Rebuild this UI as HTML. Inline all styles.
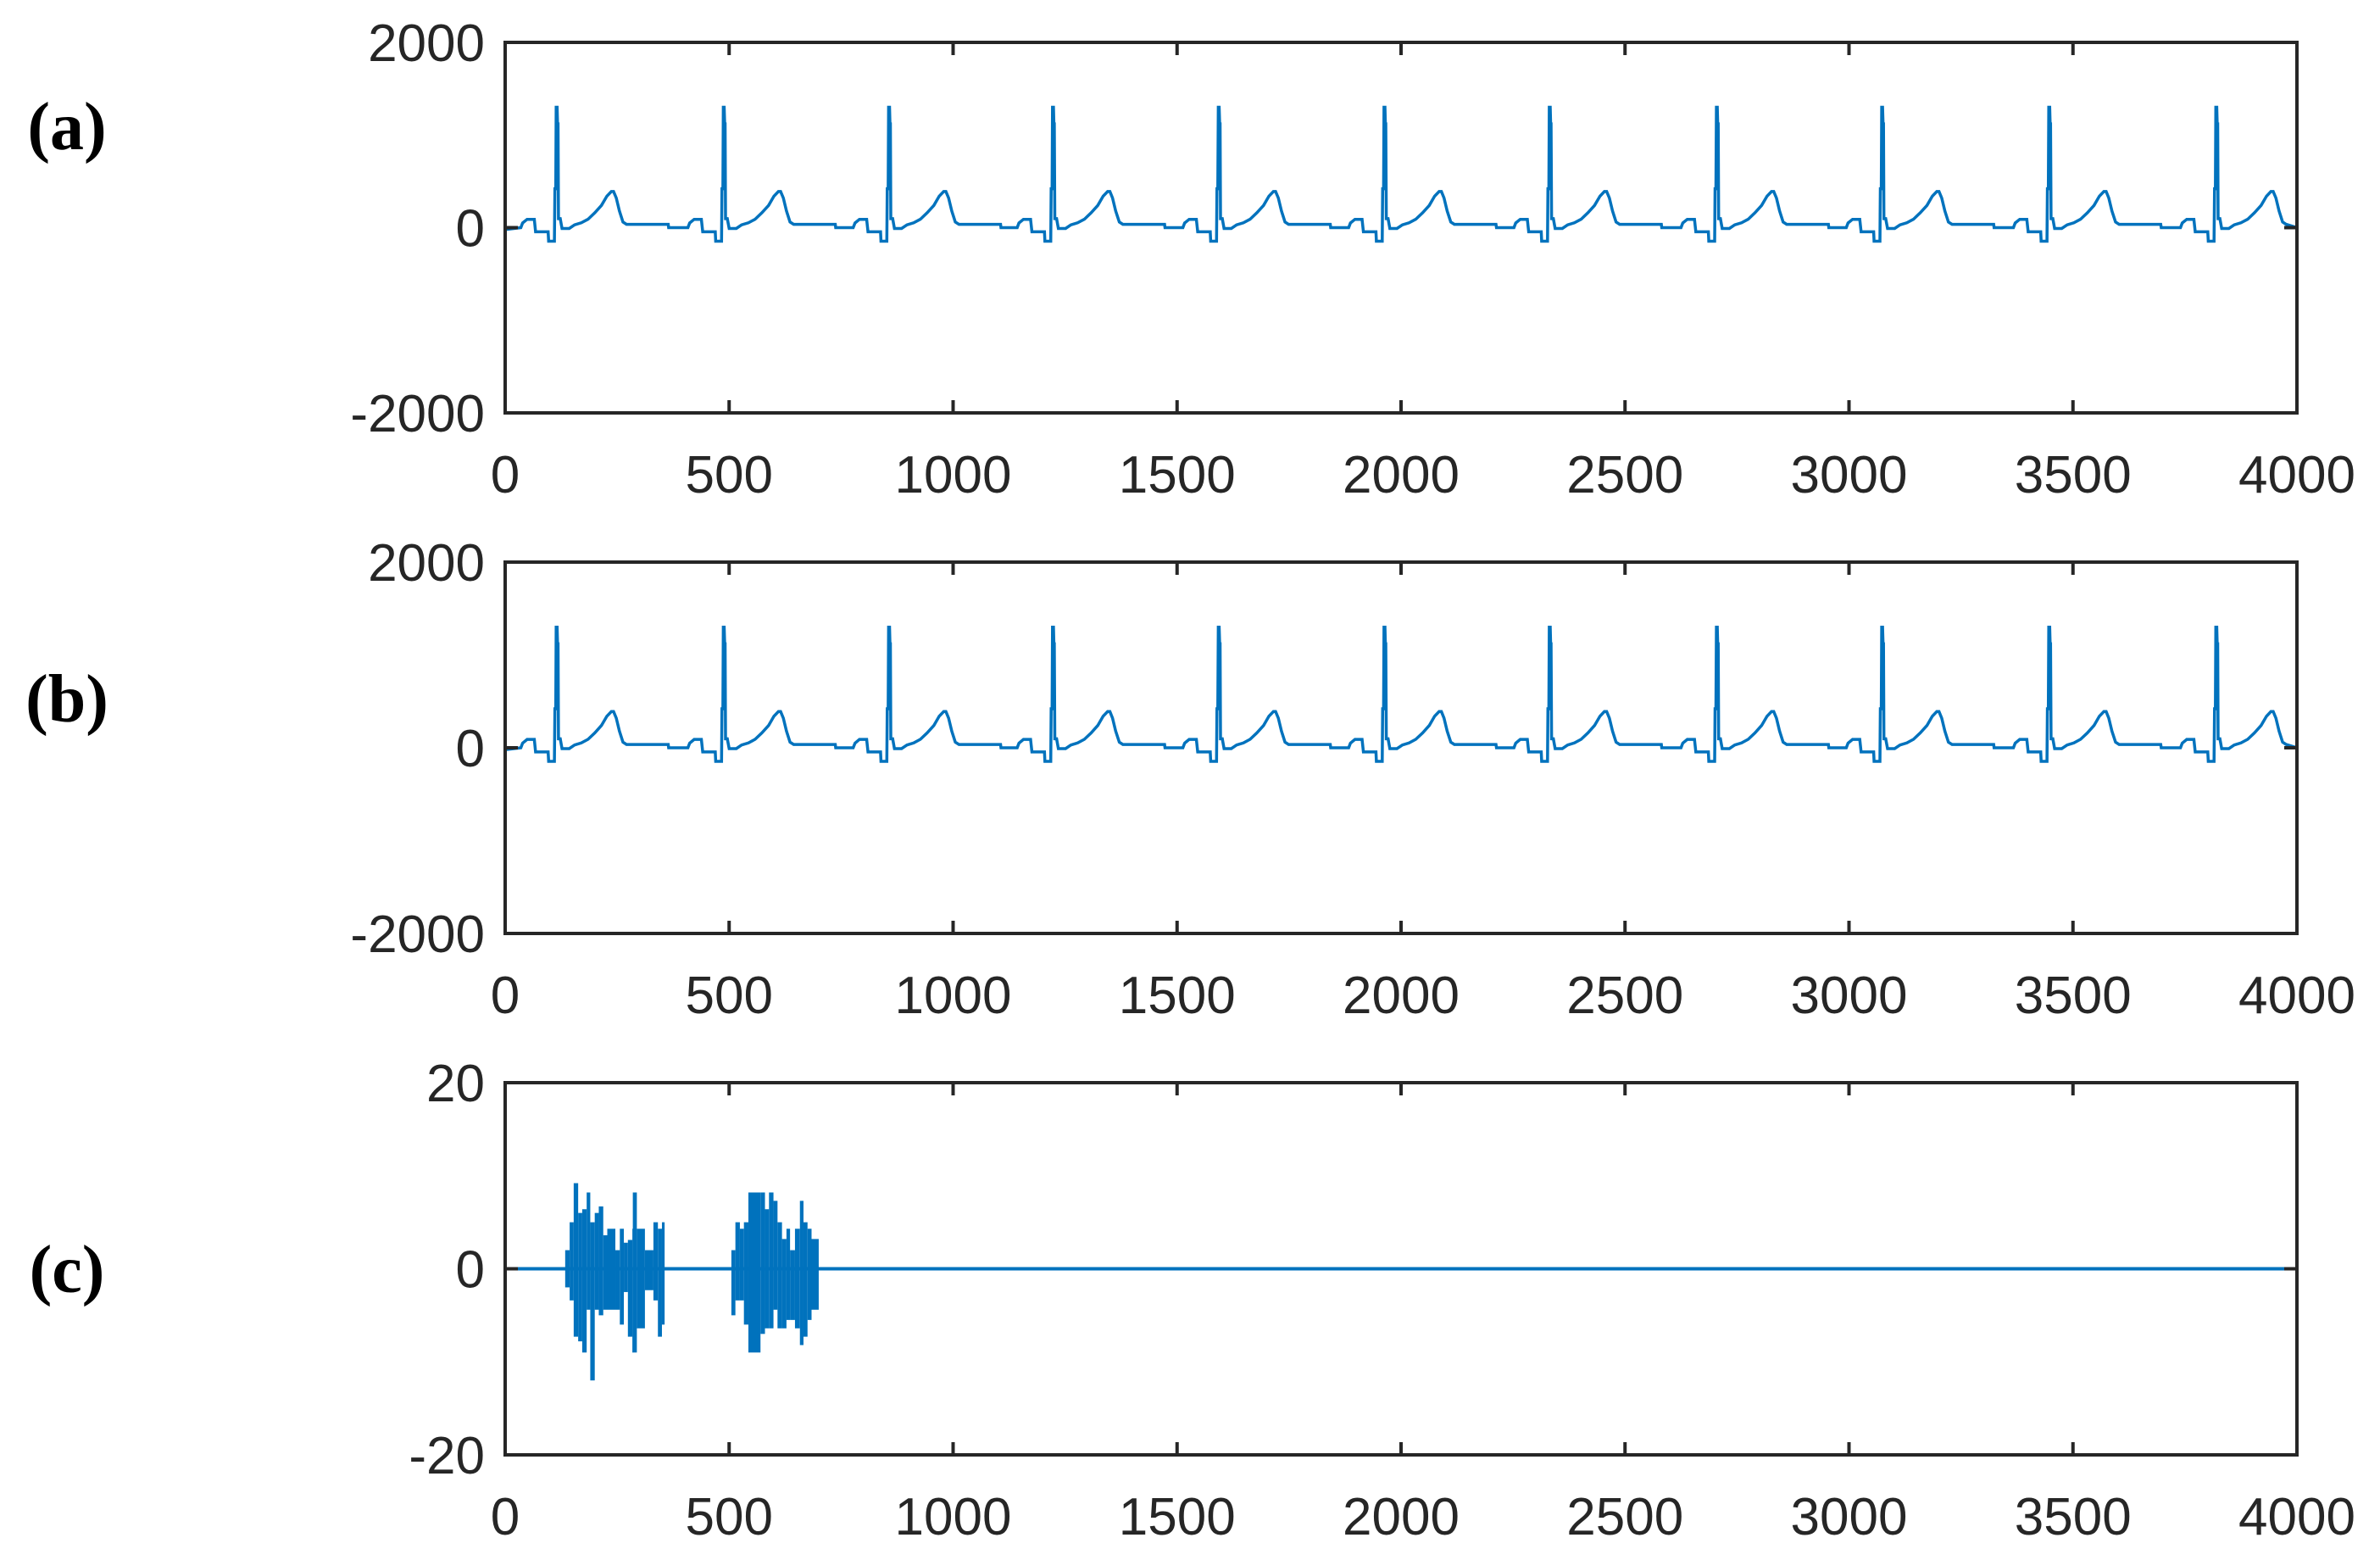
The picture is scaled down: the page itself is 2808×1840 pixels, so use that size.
<!DOCTYPE html>
<html><head><meta charset="utf-8"><style>
html,body{margin:0;padding:0;background:#fff;}
svg{display:block;}
</style></head><body>
<svg id="fig" width="2808" height="1840" viewBox="0 0 2808 1840" xmlns="http://www.w3.org/2000/svg"></svg>
<script>
// ---- data ----
const xTicks = [0,500,1000,1500,2000,2500,3000,3500,4000];
const ecgYTicks = [-2000,0,2000];
const noiseYTicks = [-20,0,20];
const panelLabels = ['(a)','(b)','(c)'];
// R-peak sample positions
const rPeaks = [115,488,857,1223,1593,1963,2332,2705,3074,3447,3820];
// beat template: offsets from R (samples) and amplitudes
const beatOffsets = [-80,-76,-66,-50,-47,-19,-18,-5,-4,-2,-1,1,2,3,4,8,12,28,40,55,70,85,100,112,122,127,133,140,148,156,249,250];
const beatValues  = [0,50,90,90,-45,-45,-146,-146,420,420,1300,1300,1120,1120,97,97,-9,-9,30,52,91,160,240,340,390,390,320,180,60,36,36,0];
// noise bursts (panel c): bin edges (samples), upper and lower envelope
const burstX = [134,144,153,163,172,182,190,200,209,219,228,246,256,265,274,284,285,294,312,331,341,350,356, 505,514,524,533,543,570,580,589,599,608,618,628,636,647,658,666,675,684,700];
const burstUp = [2,5,9.2,6,6.4,8.2,5,6,6.7,3.6,4.3,2,4.3,2.8,3.1,4.3,8.2,4.3,2,5,4.3,5,0, 2,5,4.3,5,8.2,8.2,6.4,8.2,7.3,5,3.2,4.3,2,4.3,7.3,5,4.3,3.2,0];
const burstLo = [-2,-3.4,-7.3,-7.8,-9,-4.4,-12,-4.4,-5,-4.4,-4.4,-4.4,-6,-2.5,-7.3,-9,-9,-6.4,-2.3,-3.4,-7.3,-6,0, -5,-3.4,-3.4,-6,-9,-7,-6.4,-6.4,-4.4,-6.4,-6.4,-5.5,-5.5,-6.4,-8.2,-7.3,-5.5,-4.4,0];

const NS='http://www.w3.org/2000/svg';
const svg=document.getElementById('fig');
function mk(tag,attrs,parent){const e=document.createElementNS(NS,tag);for(const k in attrs)e.setAttribute(k,attrs[k]);(parent||svg).appendChild(e);return e;}

const L=596,R=2710;
const panels=[{top:50,bot:487,yt:ecgYTicks,kind:'ecg',name:'panel-a',ly:152},
              {top:663,bot:1101,yt:ecgYTicks,kind:'ecg',name:'panel-b',ly:827},
              {top:1277,bot:1716,yt:noiseYTicks,kind:'noise',name:'panel-c',ly:1500}];

function ecgPoints(){
  const pts=[[0,-20]];
  rPeaks.forEach(r=>{beatOffsets.forEach((o,i)=>{const x=r+o;if(x>=0&&x<=4000)pts.push([x,beatValues[i]]);});});
  pts.push([4000,0]);
  return pts;
}

panels.forEach((p,pi)=>{
  const g=mk('g',{});
  
  
  const ymin=p.yt[0],ymax=p.yt[2];
  const X=v=>L+(v-0)/4000*(R-L);
  const Y=v=>p.bot-(v-ymin)/(ymax-ymin)*(p.bot-p.top);
  const cp=mk('clipPath',{id:'cp'+pi},g);mk('rect',{x:L,y:p.top,width:R-L,height:p.bot-p.top},cp);
  const dg=mk('g',{'clip-path':'url(#cp'+pi+')'},g);
  if(p.kind==='ecg'){
    const d=ecgPoints().map((q,i)=>(i?'L':'M')+X(q[0]).toFixed(1)+' '+Y(q[1]).toFixed(1)).join(' ');
    const path=mk('path',{d:d,fill:'none',stroke:'#0072BD','stroke-width':3.5,'stroke-linejoin':'miter'},dg);
    
    
  } else {
    const base=mk('path',{d:'M'+X(0)+' '+Y(0)+' L'+X(4000)+' '+Y(0),stroke:'#0072BD','stroke-width':4,fill:'none'},dg);
    
    
    for(let i=0;i<burstX.length-1;i++){
      if(burstUp[i]===0&&burstLo[i]===0)continue;
      const rc=mk('rect',{x:X(burstX[i]),y:Y(burstUp[i]),width:Math.max(1,X(burstX[i+1])-X(burstX[i])),height:Y(burstLo[i])-Y(burstUp[i]),fill:'#0072BD'},dg);
      
      
    }
  }
  const box=mk('rect',{x:L,y:p.top,width:R-L,height:p.bot-p.top,fill:'none',stroke:'#262626','stroke-width':4},g);
  
  
  xTicks.forEach(t=>{
    const x=X(t);
    mk('line',{x1:x,y1:p.bot,x2:x,y2:p.bot-15,stroke:'#262626','stroke-width':4},g);
    mk('line',{x1:x,y1:p.top,x2:x,y2:p.top+15,stroke:'#262626','stroke-width':4},g);
    const tx=mk('text',{x:x,y:p.bot+94,'text-anchor':'middle','font-family':'Liberation Sans, sans-serif','font-size':62,fill:'#262626'},g);
    tx.textContent=t;
    
    
  });
  p.yt.forEach(t=>{
    const y=Y(t);
    mk('line',{x1:L,y1:y,x2:L+15,y2:y,stroke:'#262626','stroke-width':4},g);
    mk('line',{x1:R,y1:y,x2:R-15,y2:y,stroke:'#262626','stroke-width':4},g);
    const ty=mk('text',{x:572,y:y+22,'text-anchor':'end','font-family':'Liberation Sans, sans-serif','font-size':62,fill:'#262626'},g);
    ty.textContent=t;
    
    
  });
  const lab=mk('text',{x:79,y:p.ly+24,'text-anchor':'middle','font-family':'Liberation Serif, serif','font-size':80,'font-weight':'bold',fill:'#000'},svg);
  lab.textContent=panelLabels[pi];
  
  
});
</script>
</body></html>
